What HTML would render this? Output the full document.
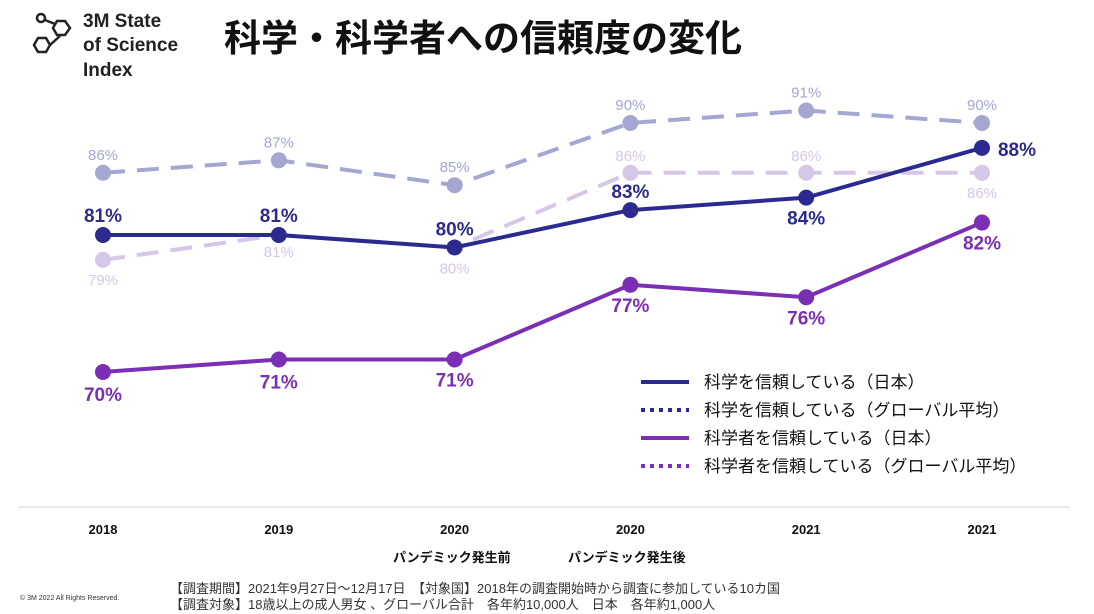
<!DOCTYPE html>
<html><head><meta charset="utf-8"><style>
body{margin:0;background:#fff;width:1094px;height:614px;overflow:hidden;font-family:"Liberation Sans","Noto Sans CJK JP",sans-serif}
svg{position:absolute;left:0;top:0}
text{font-family:"Liberation Sans","Noto Sans CJK JP",sans-serif}
</style></head><body>
<svg width="1094" height="614">
<g fill="none" stroke="#222" stroke-width="2.5">
<circle cx="41" cy="18" r="4"/><line x1="45" y1="20" x2="55" y2="24"/>
<polygon points="57,21 65,21 70,28 65,35 57,35 53,28"/><line x1="60" y1="36" x2="50" y2="45"/>
<polygon points="38,38 46,38 50,45 46,52 38,52 34,45"/>
</g>
<text x="83" y="27" font-size="19" font-weight="bold" fill="#222">3M State</text>
<text x="83" y="51" font-size="19" font-weight="bold" fill="#222">of Science</text>
<text x="83" y="76" font-size="19" font-weight="bold" fill="#222">Index</text>
<text x="224" y="51" font-size="37" font-weight="bold" fill="#111">科学・科学者への信頼度の変化</text>
<g id="plot"></g>
<line x1="18" y1="507" x2="1070" y2="507" stroke="#e4e4e4" stroke-width="1.5"/>
<g id="xt"></g>
<text x="393" y="562" font-size="13" font-weight="bold" fill="#111">パンデミック発生前</text>
<text x="568" y="562" font-size="13" font-weight="bold" fill="#111">パンデミック発生後</text>
<g id="legend"></g>
<text x="20" y="600" font-size="7" fill="#333">© 3M  2022     All Rights Reserved.</text>
<text x="170" y="593" font-size="13" fill="#333">【調査期間】2021年9月27日～12月17日　【対象国】2018年の調査開始時から調査に参加している10カ国</text>
<text x="170" y="609" font-size="13" fill="#333">【調査対象】18歳以上の成人男女 、グローバル合計　各年約10,000人　日本　各年約1,000人</text>
</svg>
<script>
const categories=["2018","2019","2020","2020","2021","2021"];
const sciJapan=[81,81,80,83,84,88];
const sciGlobal=[86,87,85,90,91,90];
const scientistJapan=[70,71,71,77,76,82];
const scientistGlobal=[79,81,80,86,86,86];
const legendLabels=["科学を信頼している（日本）","科学を信頼している（グローバル平均）","科学者を信頼している（日本）","科学者を信頼している（グローバル平均）"];
const NS="http://www.w3.org/2000/svg";
const x=i=>103+i*175.8;
const y=v=>235-(v-81)*12.45;
function mk(t,a,p){const e=document.createElementNS(NS,t);for(const k in a)e.setAttribute(k,a[k]);p.appendChild(e);return e;}
const plot=document.getElementById('plot');
const series=[
 {d:sciGlobal,c:"#a4a7d1",dash:"22 12",fs:15,bold:false,off:[-13,-13,-13,-13,-13,-13],dx:[0,0,0,0,0,0],name:"science-global"},
 {d:scientistGlobal,c:"#d6c6e8",dash:"22 12",fs:15,bold:false,off:[25,22,26,-12,-12,25],dx:[0,0,0,0,0,0],name:"scientist-global"},
 {d:sciJapan,c:"#2b2a8e",dash:null,fs:19,bold:true,off:[-13,-13,-12,-12,27,8],dx:[0,0,0,0,0,35],name:"science-japan"},
 {d:scientistJapan,c:"#7a2fb4",dash:null,fs:19,bold:true,off:[29,29,27,27,27,27],dx:[0,0,0,0,0,0],name:"scientist-japan"}
];
series.forEach(s=>{
 const pts=s.d.map((v,i)=>x(i)+","+y(v)).join(" ");
 const pl=mk('polyline',{points:pts,fill:"none",stroke:s.c,"stroke-width":4},plot);
 if(s.dash)pl.setAttribute('stroke-dasharray',s.dash);
 
 
 s.d.forEach((v,i)=>{
  const c=mk('circle',{cx:x(i),cy:y(v),r:8,fill:s.c},plot);
  
  
  const t=mk('text',{x:x(i)+s.dx[i],y:y(v)+s.off[i],"font-size":s.fs,"font-weight":s.bold?"bold":"normal",fill:s.c,"text-anchor":"middle"},plot);
  t.textContent=v+"%";
  
  
 });
});
const xt=document.getElementById('xt');
categories.forEach((c,i)=>{
 const t=mk('text',{x:x(i),y:534,"font-size":13,"font-weight":"bold",fill:"#111","text-anchor":"middle"},xt);
 t.textContent=c;
 
 
});
const lg=document.getElementById('legend');
const lc=["#2b2a8e","#2b2a8e","#7a2fb4","#7a2fb4"];
legendLabels.forEach((l,i)=>{
 const yy=382+i*28;
 const ln=mk('line',{x1:641,y1:yy,x2:689,y2:yy,stroke:lc[i],"stroke-width":4},lg);
 if(i%2==1)ln.setAttribute('stroke-dasharray','4 5');
 
 
 const t=mk('text',{x:704,y:yy+6,"font-size":17,fill:"#111"},lg);
 t.textContent=l;
 
 
});
</script>
</body></html>
